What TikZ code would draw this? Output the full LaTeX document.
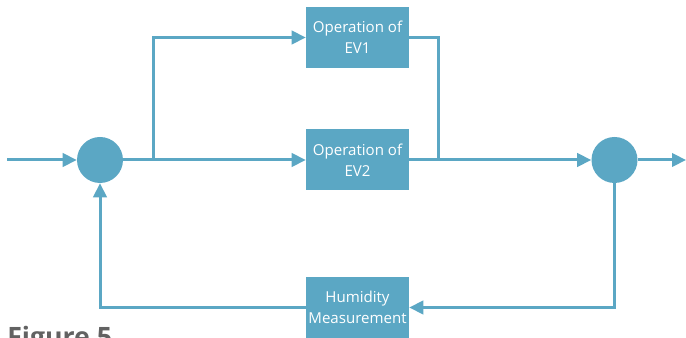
\documentclass[tikz,border=0pt]{standalone}
\usepackage{fontspec}
\setmainfont{Open Sans}
\usetikzlibrary{positioning, arrows.meta}
\definecolor{flowblue}{RGB}{91,167,196}
\definecolor{capgray}{RGB}{98,98,98}

\tikzset{
  block/.style={fill=flowblue, text=white, minimum width=77.25pt, minimum height=45.75pt,
    inner sep=0pt, align=center, font=\fontsize{11.3}{15.5}\selectfont},
  junction/.style={circle, fill=flowblue, minimum size=34.5pt, inner sep=0pt},
  link/.style={draw=flowblue, line width=2.25pt},
  flow/.style={link, -{Triangle[length=10.5pt,width=10pt]}},
}

\begin{document}
\begin{tikzpicture}[x=0.75pt, y=-0.75pt]
\useasboundingbox (0,0) rectangle (686,338);

% summing points
\node[junction] (sum1) at (100,160) {};
\node[junction] (sum2) at (614.5,160) {};

% blocks
\node[block] (ev1) at (357.5,37.5) {Operation of\\EV1};
\node[block] (ev2) at (357.5,160) {Operation of\\EV2};
\node[block] (hum) at (357.5,307.5) {Humidity\\Measurement};

\coordinate (in) at (7,160);
\coordinate (split) at (153,160);
\coordinate (merge) at (438,160);
\coordinate (out) at (686,160);

% forward path
\draw[flow] (in) -- (sum1);
\draw[link] (sum1) -- (split);
\draw[flow] (split) |- (ev1);
\draw[flow] (split) -- (ev2);
\draw[link] (ev1.east) -| (merge);
\draw[flow] (ev2) -- (sum2);
\draw[flow] (sum2) -- (out);

% feedback
\draw[flow] (sum2) |- (hum);
\draw[flow] (hum) -| (sum1);

\node[anchor=base west, inner sep=0pt, text=capgray, font=\fontsize{20}{22}\bfseries\selectfont] (cap) at (7,347) {Figure 5};
\end{tikzpicture}
\end{document}
